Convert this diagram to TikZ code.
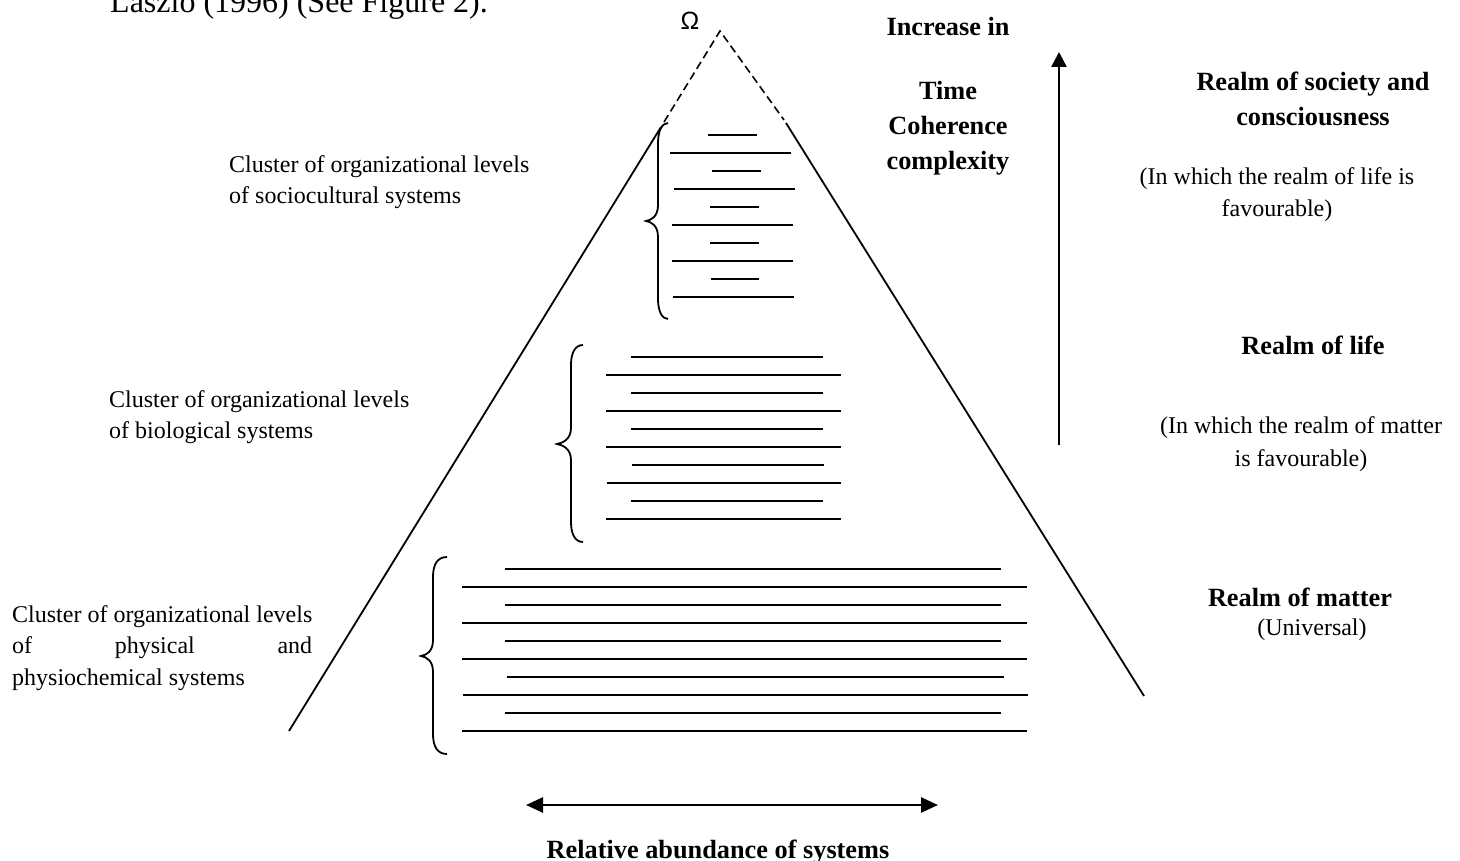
\documentclass[tikz,border=0pt]{standalone}
\usepackage{fontspec}
\setmainfont{Liberation Serif}
\newfontfamily\omegafont{Liberation Sans}
\usetikzlibrary{arrows.meta}

\tikzset{
  side/.style={line width=1.8pt},
  apexdash/.style={line width=1.6pt, dash pattern=on 8pt off 4.5pt, line join=miter},
  level/.style={line width=2.3pt},
  bracket/.style={line width=1.8pt},
  axisarrow/.style={line width=2.6pt},
  plain/.style={font=\fontsize{24}{31}\selectfont, inner sep=0pt},
  heading/.style={font=\fontsize{26.3}{35}\selectfont\bfseries, inner sep=0pt},
}

% Curly bracket: #1 end x, #2 stem x, #3 tip x, #4 top y, #5 tip y, #6 bottom y
\newcommand{\clusterbrace}[6]{%
  \draw[bracket] (#1,#4) .. controls ({#2+4},#4) and (#2,{#4+8}) .. (#2,{#4+20})
    -- (#2,{#5-16}) .. controls (#2,{#5-5}) and ({#3+6},{#5-1}) .. (#3,#5)
    .. controls ({#3+6},{#5+1}) and (#2,{#5+5}) .. (#2,{#5+16})
    -- (#2,{#6-20}) .. controls (#2,{#6-8}) and ({#2+4},#6) .. (#1,#6);
}

\begin{document}
\begin{tikzpicture}[x=1pt,y=-1pt]
\useasboundingbox (0,0) rectangle (1460,861);
\clip (0,0) rectangle (1460,861);

% running text above the figure
\node[anchor=base west, inner sep=0pt, font=\fontsize{32}{38}\selectfont] (lead) at (110,13) {Laszlo (1996) (See Figure 2).};

% pyramid sides and dashed apex
\draw[apexdash] (664,122) -- (720,31) -- (784,120);
\draw[side] (661,127) -- (289,731);
\draw[side] (786,123) -- (1144,696);
\node[anchor=base, inner sep=0pt, font=\omegafont\fontsize{25}{29}\selectfont] (omega) at (690,29.5) {Ω};

% organizational levels: sociocultural cluster
\foreach \xa/\xb/\y in {708/757/135, 670/791/153, 712/761/171, 674/795/189,
                        710/759/207, 672/793/225, 710/759/243, 672/793/261,
                        711/759/279, 673/794/297}
  \draw[level] (\xa,\y) -- (\xb,\y);
% biological cluster
\foreach \xa/\xb/\y in {631/823/357, 606/841/375, 631/823/393, 606/841/411,
                        631/823/429, 606/841/447, 632/824/465, 607/841/483,
                        631/823/501, 606/841/519}
  \draw[level] (\xa,\y) -- (\xb,\y);
% physical and physiochemical cluster
\foreach \xa/\xb/\y in {505/1001/569, 462/1027/587, 505/1001/605, 462/1027/623,
                        505/1001/641, 462/1027/659, 507/1004/677, 463/1028/695,
                        505/1001/713, 462/1027/731}
  \draw[level] (\xa,\y) -- (\xb,\y);

% brackets grouping each cluster
\clusterbrace{668}{658}{646}{123}{221}{319}
\clusterbrace{583}{571}{557}{345}{444}{542}
\clusterbrace{447}{433}{421}{557}{656}{754}

% cluster labels
\node[plain, anchor=base west] (soc1) at (229,173) {Cluster of organizational levels};
\node[plain, anchor=base west] (soc2) at (229,204) {of sociocultural systems};
\node[plain, anchor=base west] (bio1) at (109,407) {Cluster of organizational levels};
\node[plain, anchor=base west] (bio2) at (109,438) {of biological systems};
\node[plain, anchor=base west] (phy1) at (12,622) {Cluster of organizational levels};
\node[plain, anchor=base west] (phy2) at (12,653) {\hbox to 300pt{of\hfill physical\hfill and}};
\node[plain, anchor=base west] (phy3) at (12,685) {physiochemical systems};

% increase axis
\node[heading, anchor=base] (inc) at (948,36) {Increase in};
\node[heading, anchor=base] (inc1) at (948,100) {Time};
\node[heading, anchor=base] (inc2) at (948,135) {Coherence};
\node[heading, anchor=base] (inc3) at (948,170) {complexity};
\coordinate (up0) at (1059,445);
\coordinate (up1) at (1059,52);
\draw[axisarrow, -{Triangle[length=15pt,width=15pt]}] (up0) -- (up1);

% realms
\node[heading, anchor=base] (soc) at (1313,91) {Realm of society and};
\node[heading, anchor=base] (socb) at (1313,126) {consciousness};
\node[plain, anchor=base] (socn1) at (1277,185) {(In which the realm of life is};
\node[plain, anchor=base] (socn2) at (1277,217) {favourable)};
\node[heading, anchor=base] (life) at (1313,354) {Realm of life};
\node[plain, anchor=base] (lifen1) at (1301,433) {(In which the realm of matter};
\node[plain, anchor=base] (lifen2) at (1301,466) {is favourable)};
\node[heading, anchor=base] (matter) at (1300,606) {Realm of matter};
\node[plain, anchor=base] (mattern) at (1312,635) {(Universal)};

% abundance axis
\coordinate (ab0) at (526,805);
\coordinate (ab1) at (938,805);
\draw[axisarrow, {Triangle[length=17pt,width=15pt]}-{Triangle[length=17pt,width=15pt]}] (ab0) -- (ab1);
\node[heading, anchor=base] (abund) at (718,858) {Relative abundance of systems};
\end{tikzpicture}
\end{document}
